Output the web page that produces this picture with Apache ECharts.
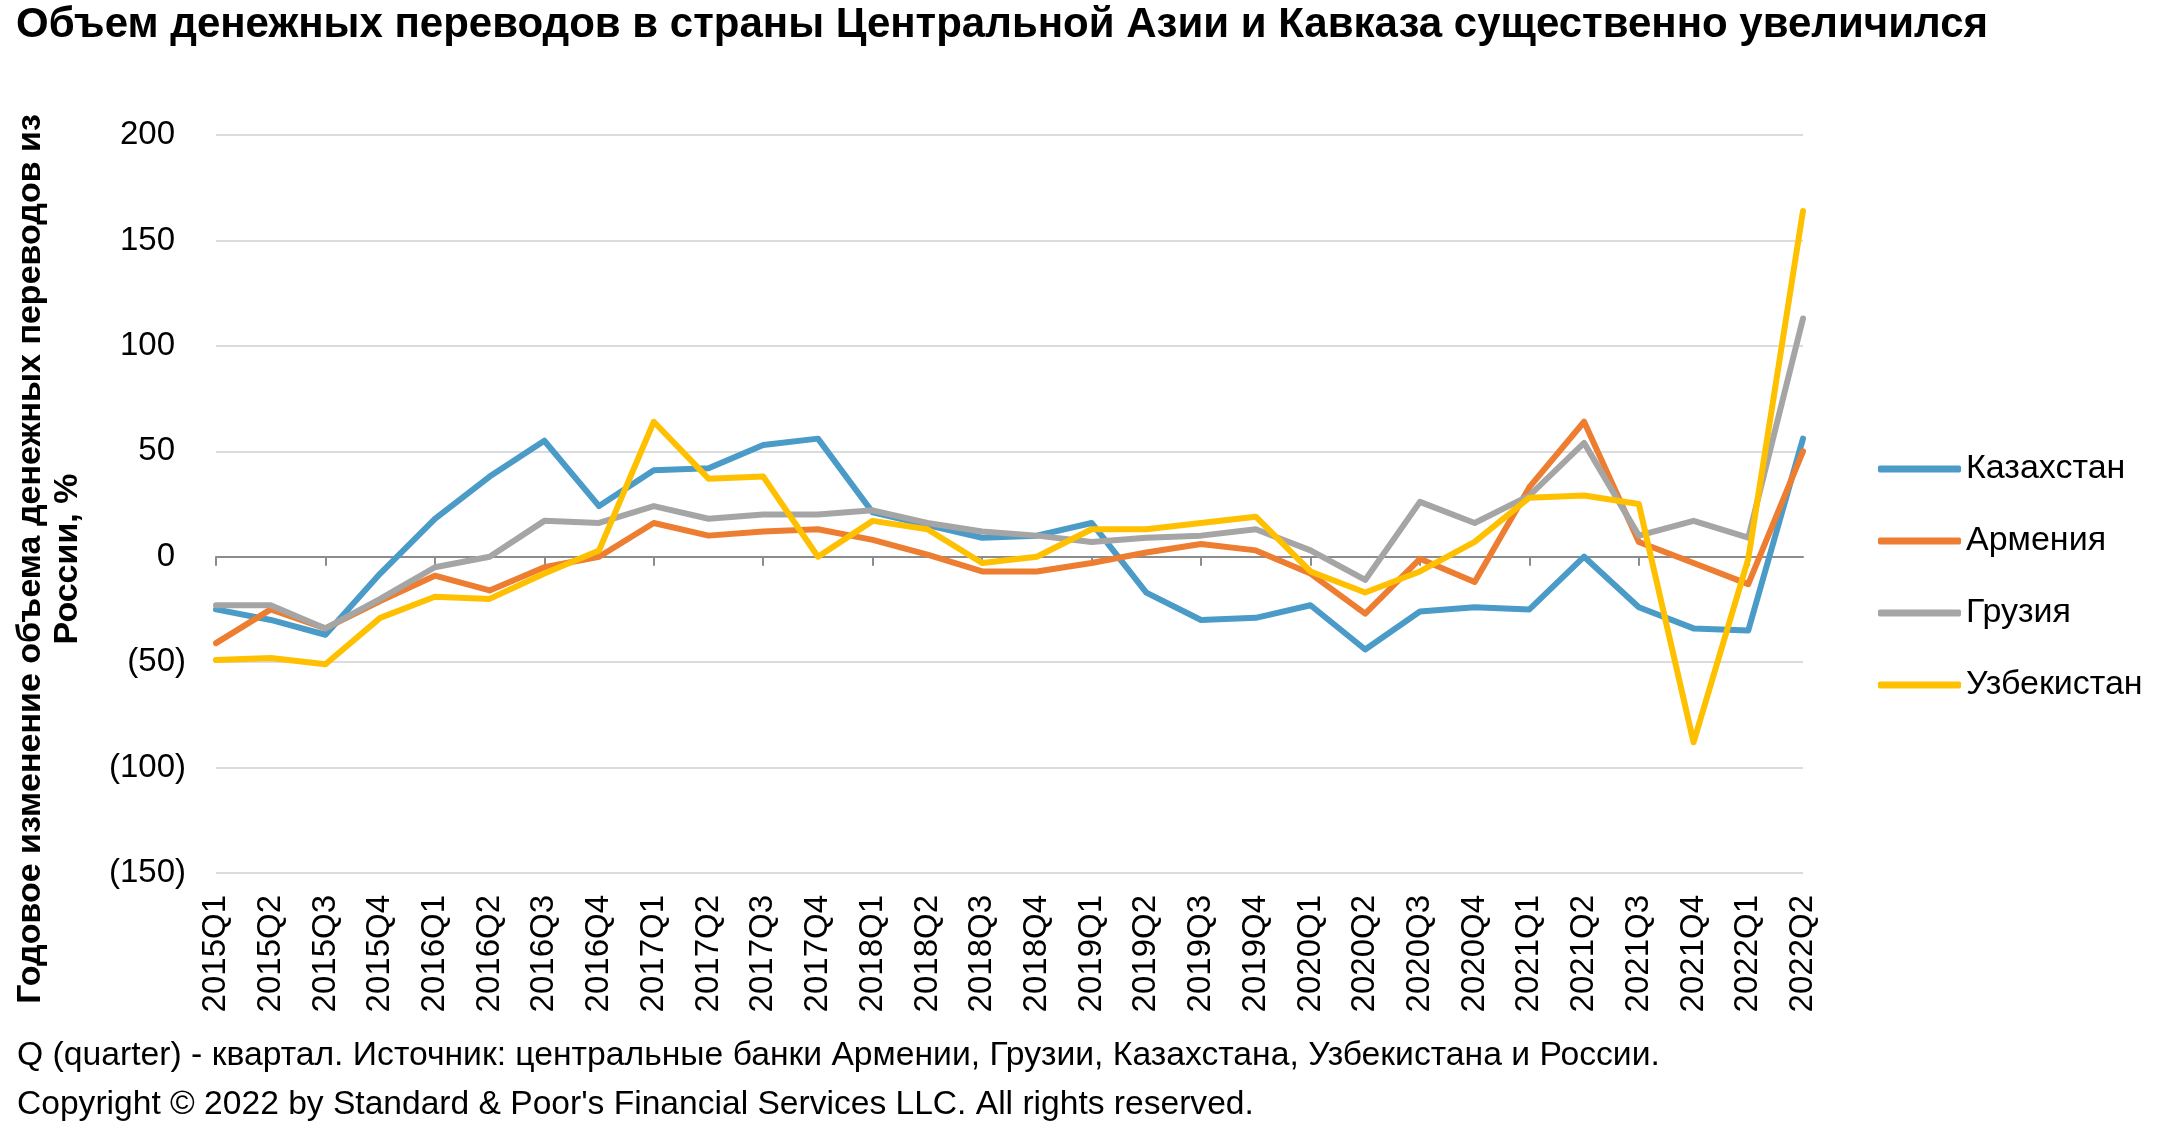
<!DOCTYPE html>
<html>
<head>
<meta charset="utf-8">
<script src="https://cdn.jsdelivr.net/npm/echarts@6/dist/echarts.min.js"></script>
<style>
  html, body { margin: 0; padding: 0; background: #fff; }
  #chart { width: 2160px; height: 1130px; }
</style>
</head>
<body>
<div id="chart"></div>
<script>
const quarters = [
  '2015Q1', '2015Q2', '2015Q3', '2015Q4', '2016Q1', '2016Q2', '2016Q3', '2016Q4',
  '2017Q1', '2017Q2', '2017Q3', '2017Q4', '2018Q1', '2018Q2', '2018Q3', '2018Q4',
  '2019Q1', '2019Q2', '2019Q3', '2019Q4', '2020Q1', '2020Q2', '2020Q3', '2020Q4',
  '2021Q1', '2021Q2', '2021Q3', '2021Q4', '2022Q1', '2022Q2'
]
const kazakhstan = [
  -25, -30, -37, -8, 18, 38, 55, 24, 41, 42, 53, 56, 21, 15, 9, 10,
  16, -17, -30, -29, -23, -44, -26, -24, -25, 0, -24, -34, -35, 56
]
const armenia = [
  -41, -25, -34, -21, -9, -16, -5, 0, 16, 10, 12, 13, 8, 1, -7, -7,
  -3, 2, 6, 3, -8, -27, -1, -12, 33, 64, 7, -3, -13, 50
]
const georgia = [
  -23, -23, -34, -20, -5, 0, 17, 16, 24, 18, 20, 20, 22, 16, 12, 10,
  7, 9, 10, 13, 3, -11, 26, 16, 29, 54, 10, 17, 9, 113
]
const uzbekistan = [
  -49, -48, -51, -29, -19, -20, -8, 3, 64, 37, 38, 0, 17, 13, -3, 0,
  13, 13, 16, 19, -7, -17, -7, 7, 28, 29, 25, -88, -1, 164
]
const yTicks = [-150, -100, -50, 0, 50, 100, 150, 200]

const font = 'Liberation Sans, Arial, sans-serif'

let myChart = echarts.init(document.getElementById('chart'))

function makeSeries(name, data, color) {
  return {
    name: name,
    type: 'line',
    data: data,
    symbol: 'none',
    lineStyle: { color: color, width: 6, cap: 'round', join: 'round' },
    itemStyle: { color: color },
    z: 3
  }
}

myChart.setOption({
  animation: false,
  backgroundColor: '#fff',
  textStyle: { fontFamily: font },
  grid: { left: 216, right: 357, top: 135, bottom: 257 },
  legend: {
    orient: 'vertical',
    left: 1873,
    top: 447,
    itemWidth: 83,
    itemHeight: 7,
    itemGap: 38,
    icon: 'roundRect',
    textStyle: { fontFamily: font, fontSize: 34, color: '#000' },
    data: ['Казахстан', 'Армения', 'Грузия', 'Узбекистан']
  },
  graphic: [
    {
      type: 'text', left: 16, top: 4,
      style: { text: 'Объем денежных переводов в страны Центральной Азии и Кавказа существенно увеличился',
        font: 'bold 42px ' + font, fill: '#000' }
    },
    {
      type: 'text', x: 49, y: 559, rotation: Math.PI / 2,
      style: { text: 'Годовое изменение объема денежных переводов из\nРоссии, %',
        font: 'bold 34px ' + font, fill: '#000', align: 'center', verticalAlign: 'middle', lineHeight: 37 }
    },
    {
      type: 'text', left: 17, top: 1039,
      style: { text: 'Q (quarter) - квартал. Источник: центральные банки Армении, Грузии, Казахстана, Узбекистана и России.',
        font: '33.7px ' + font, fill: '#000' }
    },
    {
      type: 'text', left: 17, top: 1088,
      style: { text: 'Copyright © 2022 by Standard & Poor\'s Financial Services LLC. All rights reserved.',
        font: '33.6px ' + font, fill: '#000' }
    }
  ],
  xAxis: [
    {
      type: 'category',
      data: quarters,
      boundaryGap: false,
      axisLine: { onZero: true, lineStyle: { color: '#8c8c8c', width: 2 } },
      axisTick: { show: true, length: 9, lineStyle: { color: '#8c8c8c', width: 2 } },
      axisLabel: { show: false },
      splitLine: { show: false },
      z: 2
    },
    {
      type: 'category',
      data: quarters,
      boundaryGap: false,
      position: 'bottom',
      axisLine: { show: false, onZero: false },
      axisTick: { show: false },
      axisLabel: { rotate: 90, margin: 22, fontSize: 33, color: '#000', fontFamily: font, interval: 0 },
      splitLine: { show: false }
    }
  ],
  yAxis: {
    type: 'value',
    min: yTicks[0],
    max: yTicks[yTicks.length - 1],
    interval: 50,
    axisLine: { show: false },
    axisTick: { show: false },
    axisLabel: {
      margin: 30,
      fontSize: 33,
      color: '#000',
      fontFamily: font,
      // accounting style: positive values leave room for the closing bracket
      formatter: v => v < 0 ? '(' + Math.abs(v) + ')' : v + '{pad|)}',
      rich: {
        pad: { fontSize: 33, fontFamily: font, color: 'rgba(0,0,0,0)' }
      }
    },
    splitLine: { lineStyle: { color: '#dcdcdc', width: 2 } }
  },
  series: [
    makeSeries('Казахстан', kazakhstan, '#4a9bc7'),
    makeSeries('Армения', armenia, '#ed7d31'),
    makeSeries('Грузия', georgia, '#a5a5a5'),
    makeSeries('Узбекистан', uzbekistan, '#ffc000')
  ]
})
</script>
</body>
</html>
